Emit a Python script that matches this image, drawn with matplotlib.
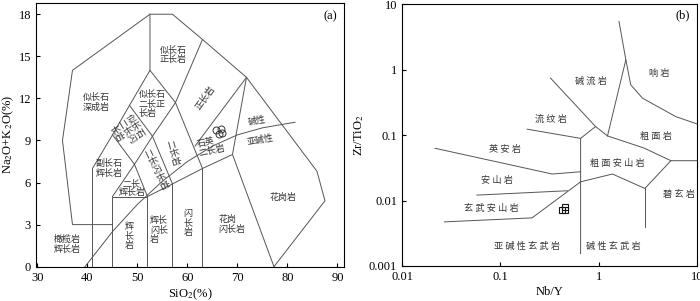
import matplotlib
matplotlib.use('Agg')
import matplotlib.pyplot as plt
from matplotlib.ticker import FixedLocator, FixedFormatter

plt.rcParams['font.family'] = ['Liberation Serif', 'Noto Sans CJK SC']
plt.rcParams['mathtext.fontset'] = 'stix'

# ---- (a) TAS plutonic diagram boundaries (SiO2, Na2O+K2O)
tas_lines = [
    [(45, 3), (37, 3), (35, 9), (37, 14), (52.5, 18), (57, 18), (63, 16.2),
     (71.8, 13.5), (85.9, 6.8), (87.5, 4.7), (77.3, 0)],
    [(41, 0), (41, 7), (45, 9.4), (48.4, 11.5), (52.5, 14), (52.5, 18)],
    [(45, 0), (45, 5), (52, 5), (52, 0)],
    [(45, 5), (49.4, 7.3), (52, 5)],
    [(45, 9.4), (49.4, 7.3), (53, 9.3), (48.4, 11.5)],
    [(52, 5), (57, 5.9), (63, 7), (69, 8)],
    [(57, 0), (57, 5.9), (53, 9.3), (57.6, 11.7), (63, 7), (63, 0)],
    [(52.5, 14), (57.6, 11.7), (63, 16.2)],
    [(69, 8), (71.8, 13.5)],
    [(69, 8), (77.3, 0)],
    [(71.8, 13.5), (61.5, 8.6)],
]
# alkaline / subalkaline divide
alk_sio2 = [39.5, 45, 50, 55, 60, 65, 70, 75, 81.5]
alk_total = [0, 2.5, 4.45, 6.1, 7.5, 8.6, 9.4, 9.9, 10.3]

# samples
samp_sio2 = [65.8, 66.7, 66.3, 67.0]
samp_alk = [9.75, 9.79, 9.46, 9.54]

tas_labels = [
    ("似长石\n正长岩", 57.1, 15.1, 0, 'center'),
    ("似长石\n深成岩", 41.7, 11.7, 0, 'center'),
    ("似长石\n二长正\n长岩", 52.9, 11.6, 0, 'left'),
    ("似长石\n二长闪\n长岩", 47.9, 9.6, -58, 'left'),
    ("副长石\n辉长岩", 44.3, 7.0, 0, 'center'),
    ("二长\n辉长岩", 48.9, 5.6, 0, 'center'),
    ("二长闪长岩", 53.7, 6.9, -64, 'center'),
    ("二长岩", 56.9, 8.1, -75, 'center'),
    ("石英\n二长岩", 64.7, 8.6, 12, 'left'),
    ("正长岩", 63.5, 12.0, 55, 'center'),
    ("碱性", 73.9, 10.4, 10, 'center'),
    ("亚碱性", 74.5, 9.0, 10, 'center'),
    ("花岗岩", 79.1, 4.9, 0, 'center'),
    ("花岗\n闪长岩", 68.9, 3.0, 0, 'left'),
    ("闪\n长\n岩", 60.1, 3.1, 0, 'center'),
    ("辉长\n闪长\n岩", 54.3, 2.6, 0, 'left'),
    ("辉\n长\n岩", 48.3, 2.2, 0, 'center'),
    ("橄榄岩\n辉长岩", 35.9, 1.6, 0, 'center'),
]

# ---- (b) Zr/TiO2 - Nb/Y diagram boundaries
wf_lines = [
    [(1.61, 5.45), (1.89, 1.41), (1.23, 0.097)],
    [(1.89, 1.41), (2.12, 0.585), (2.79, 0.366), (6.1, 0.191), (10, 0.148)],
    [(0.324, 0.741), (0.93, 0.135), (1.23, 0.097), (2.88, 0.0635),
     (5.43, 0.0406), (10, 0.0406)],
    [(0.93, 0.135), (0.655, 0.089), (0.655, 0.00155)],
    [(0.1875, 0.123), (0.655, 0.089)],
    [(0.0217, 0.0628), (0.337, 0.0254), (0.655, 0.0275)],
    [(0.655, 0.0193), (1.38, 0.0254), (2.95, 0.0153), (5.43, 0.0406)],
    [(2.95, 0.0153), (2.95, 0.00396)],
    [(0.0578, 0.0121), (0.48, 0.0141)],
    [(0.027, 0.00472), (0.21, 0.00543), (0.655, 0.0193)],
]
samp_nby = [0.42, 0.455, 0.455]
samp_zrti = [0.0071, 0.0071, 0.0079]

wf_labels = [
    ("响岩", 4.09, 0.86),
    ("碱流岩", 0.83, 0.67),
    ("流纹岩", 0.33, 0.177),
    ("粗面岩", 3.82, 0.094),
    ("英安岩", 0.112, 0.061),
    ("粗面安山岩", 1.53, 0.037),
    ("安山岩", 0.093, 0.0205),
    ("碧玄岩", 6.55, 0.0125),
    ("玄武安山岩", 0.081, 0.0077),
    ("亚碱性玄武岩", 0.188, 0.002),
    ("碱性玄武岩", 1.42, 0.002),
]

lc = '#555555'
tc = '#333333'
fig = plt.figure(figsize=(7.0, 3.01), dpi=100)

ax1 = fig.add_axes([0.0514, 0.114, 0.44, 0.876])
for seg in tas_lines:
    xs, ys = zip(*seg)
    ax1.plot(xs, ys, color=lc, lw=0.7)
ax1.plot(alk_sio2, alk_total, color=lc, lw=0.7)
ax1.plot(samp_sio2, samp_alk, 'o', mfc='none', mec='#333333', ms=5, mew=0.7)
for txt, x, y, r, al in tas_labels:
    ax1.text(x, y, txt, fontsize=6.5, rotation=r, ha='center', va='center',
             multialignment=al, color=tc, linespacing=1.1)
ax1.set_xlim(29.7, 91.3)
ax1.set_ylim(0, 18.8)
ax1.set_xticks([30, 40, 50, 60, 70, 80, 90])
ax1.set_yticks([0, 3, 6, 9, 12, 15, 18])
ax1.tick_params(direction='in', length=3, labelsize=9, width=0.8)
ax1.set_xlabel(r'SiO$_2$(%)', fontsize=9, labelpad=2)
ax1.set_ylabel(r'Na$_2$O+K$_2$O(%)', fontsize=9, labelpad=2)
ax1.text(0.955, 0.95, '(a)', transform=ax1.transAxes, fontsize=9,
         ha='center', va='center')

ax2 = fig.add_axes([0.5743, 0.1163, 0.4214, 0.870])
ax2.set_xscale('log')
ax2.set_yscale('log')
for seg in wf_lines:
    xs, ys = zip(*seg)
    ax2.plot(xs, ys, color=lc, lw=0.7)
ax2.plot(samp_nby, samp_zrti, 's', mfc='none', mec='#111111', ms=4, mew=0.8)
for txt, x, y in wf_labels:
    ax2.text(x, y, ' '.join(txt), fontsize=6.6, ha='center', va='center',
             color=tc)
ax2.set_xlim(0.01, 10)
ax2.set_ylim(0.001, 10)
ax2.minorticks_off()
xt = [0.01, 0.1, 1, 10]
yt = [0.001, 0.01, 0.1, 1, 10]
ax2.xaxis.set_major_locator(FixedLocator(xt))
ax2.xaxis.set_major_formatter(FixedFormatter(['0.01', '0.1', '1', '10']))
ax2.yaxis.set_major_locator(FixedLocator(yt))
ax2.yaxis.set_major_formatter(FixedFormatter(['0.001', '0.01', '0.1', '1', '10']))
ax2.tick_params(direction='in', length=3, labelsize=9, width=0.8)
ax2.set_xlabel('Nb/Y', fontsize=9, labelpad=2)
ax2.set_ylabel(r'Zr/TiO$_2$', fontsize=9, labelpad=2)
ax2.text(0.953, 0.958, '(b)', transform=ax2.transAxes, fontsize=9,
         ha='center', va='center')

fig.savefig('out.png', dpi=100)
